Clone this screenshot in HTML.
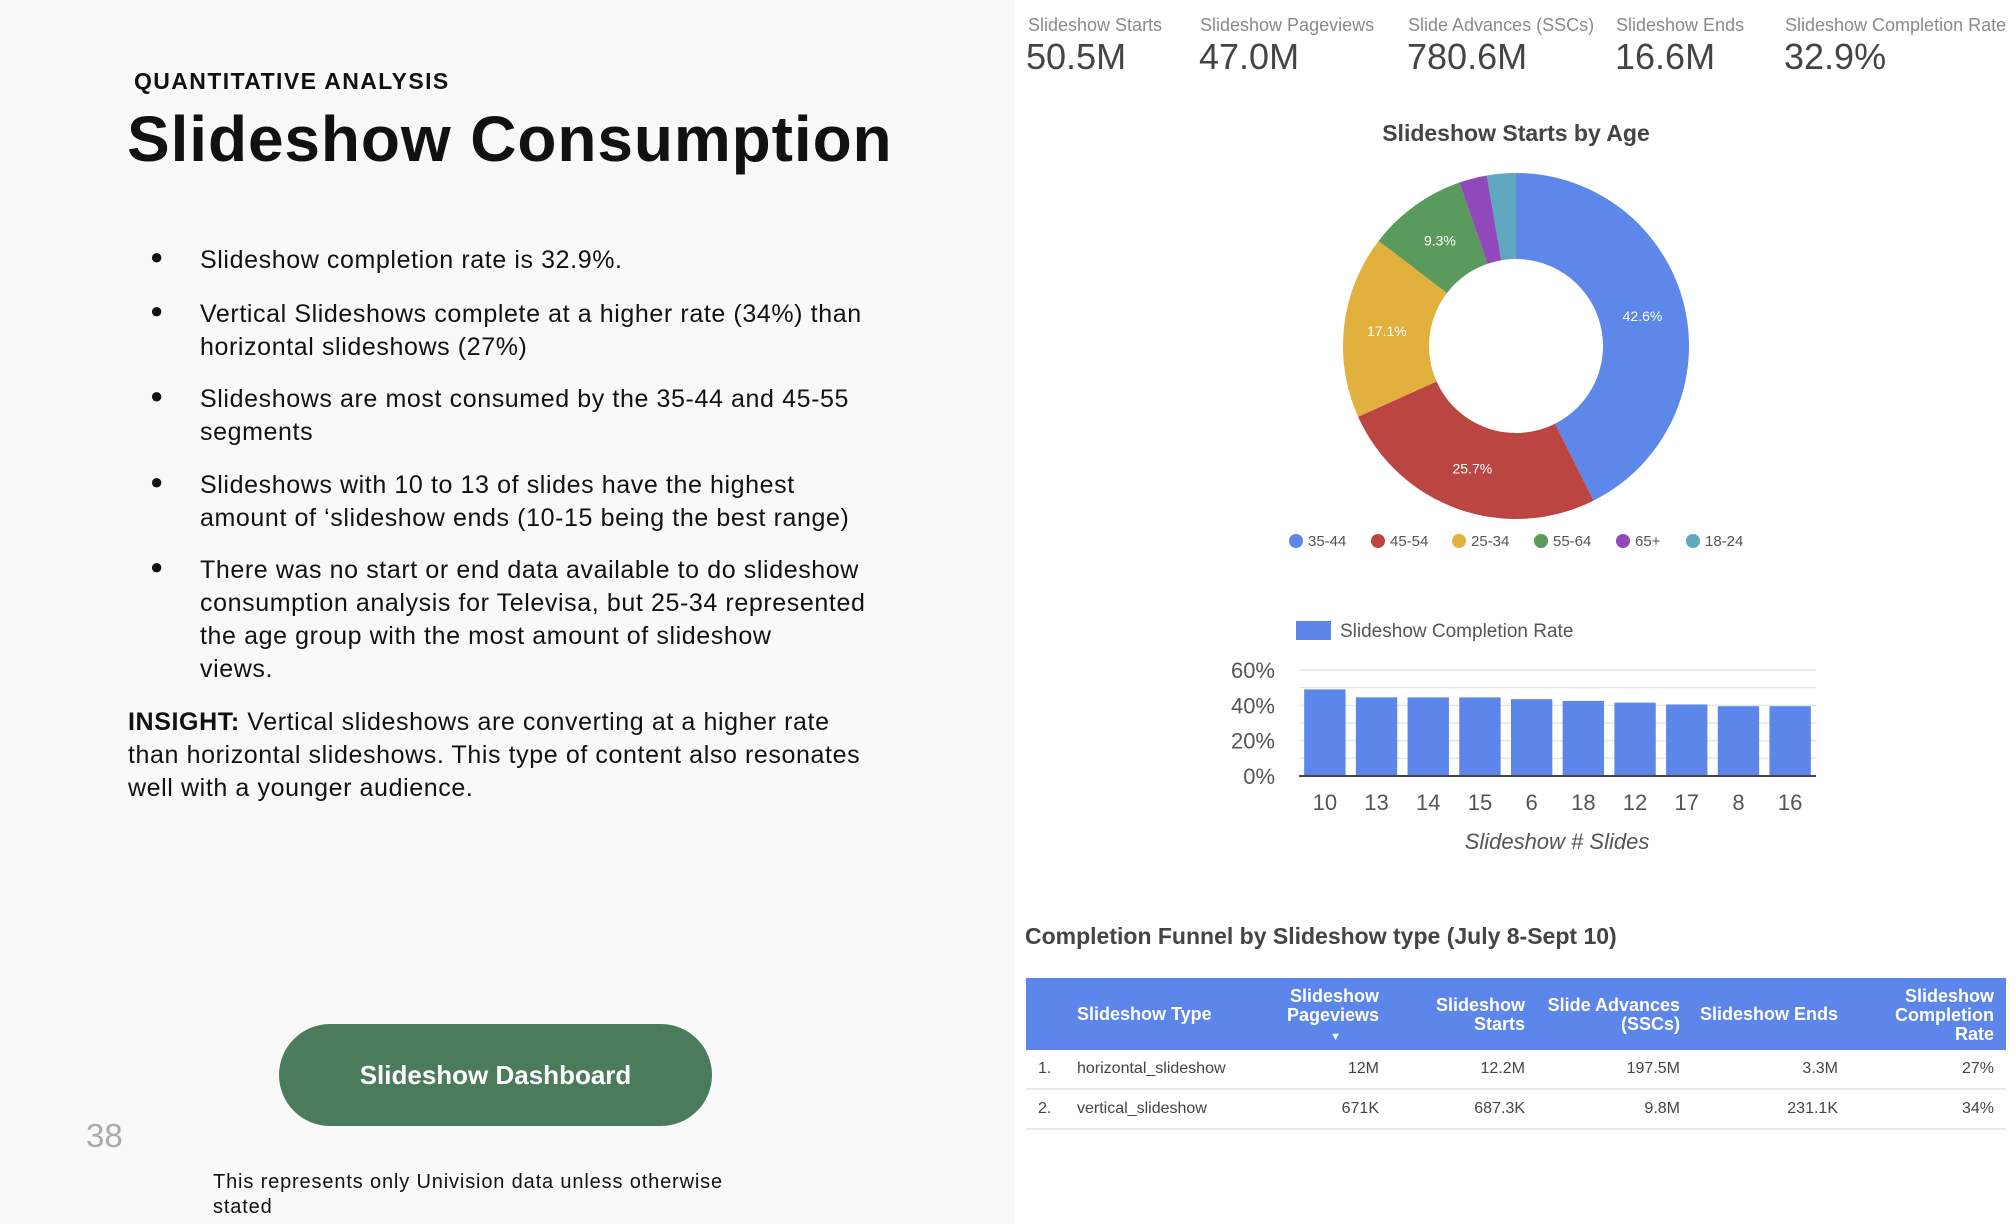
<!DOCTYPE html>
<html><head><meta charset="utf-8">
<style>
*{margin:0;padding:0;box-sizing:border-box}
body{width:2016px;height:1224px;position:relative;overflow:hidden;background:#fff;font-family:"Liberation Sans",sans-serif}
#left{position:absolute;left:0;top:0;width:1015px;height:1224px;background:#f9f9f9}
.abs{position:absolute;white-space:nowrap}
.bul{position:absolute;left:200px;font-size:25px;line-height:33px;color:#111;white-space:nowrap;letter-spacing:0.6px}
.dot{position:absolute;left:150px;font-size:22px;color:#111}
.kl{position:absolute;top:15px;font-size:18px;color:#8a8a8a}
.kv{position:absolute;top:36px;font-size:36px;color:#444}
.th{position:absolute;color:#fff;font-weight:bold;font-size:18px;line-height:19px;text-align:right}
.td{position:absolute;font-size:16px;color:#444}
#right{position:absolute;left:0;top:0;width:2016px;height:1224px;transform:translate(-6px,0px)}
</style></head><body>
<div id="left"></div>
<div class="abs" style="left:134px;top:68px;font-size:23px;font-weight:bold;color:#111;letter-spacing:1.4px">QUANTITATIVE ANALYSIS</div>
<div class="abs" style="left:127px;top:102px;font-size:64px;font-weight:bold;color:#111;letter-spacing:0.9px">Slideshow Consumption</div>

<div>
<div class="dot" style="top:244px">●</div><div class="bul" style="top:244px">Slideshow completion rate is 32.9%.</div>
<div class="dot" style="top:298px">●</div><div class="bul" style="top:298px">Vertical Slideshows complete at a higher rate (34%) than<br>horizontal slideshows (27%)</div>
<div class="dot" style="top:383px">●</div><div class="bul" style="top:383px">Slideshows are most consumed by the 35-44 and 45-55<br>segments</div>
<div class="dot" style="top:469px">●</div><div class="bul" style="top:469px">Slideshows with 10 to 13 of slides have the highest<br>amount of ‘slideshow ends (10-15 being the best range)</div>
<div class="dot" style="top:554px">●</div><div class="bul" style="top:554px">There was no start or end data available to do slideshow<br>consumption analysis for Televisa, but 25-34 represented<br>the age group with the most amount of slideshow<br>views.</div>
</div>
<div class="bul" style="left:128px;top:706px"><b>INSIGHT:</b> Vertical slideshows are converting at a higher rate<br>than horizontal slideshows. This type of content also resonates<br>well with a younger audience.</div>

<div style="position:absolute;left:279px;top:1024px;width:433px;height:102px;border-radius:51px;background:#4a7c5c;color:#fff;font-weight:bold;font-size:26px;text-align:center;line-height:102px">Slideshow Dashboard</div>
<div class="abs" style="left:86px;top:1117px;font-size:33px;color:#aaa">38</div>
<div class="abs" style="left:213px;top:1170px;font-size:20px;line-height:25px;color:#111;letter-spacing:0.85px">This represents only Univision data unless otherwise<br>stated</div>

<div id="right">
<div>
<div class="kl" style="left:1034px">Slideshow Starts</div><div class="kv" style="left:1032px">50.5M</div>
<div class="kl" style="left:1206px">Slideshow Pageviews</div><div class="kv" style="left:1205px">47.0M</div>
<div class="kl" style="left:1414px">Slide Advances (SSCs)</div><div class="kv" style="left:1413px">780.6M</div>
<div class="kl" style="left:1622px">Slideshow Ends</div><div class="kv" style="left:1621px">16.6M</div>
<div class="kl" style="left:1791px">Slideshow Completion Rate</div><div class="kv" style="left:1790px">32.9%</div>
</div>

<svg id="charts" width="2016" height="1224" style="position:absolute;left:0;top:0"
 font-family="Liberation Sans, sans-serif">
<text x="1522" y="141" text-anchor="middle" font-size="23" font-weight="bold" fill="#444">Slideshow Starts  by Age</text>
<g id="donut"></g><g id="donutLegend"></g>
<g id="bars"></g>
<text x="1031" y="944" font-size="23" font-weight="bold" fill="#444">Completion Funnel by Slideshow type (July 8-Sept 10)</text>
</svg>

<div>
<div style="position:absolute;left:1032px;top:978px;width:980px;height:72px;background:#5c86ea"></div>
<div class="th" style="left:1083px;top:1005px;text-align:left">Slideshow Type</div>
<div class="th" style="left:1250px;width:135px;top:987px">Slideshow<br>Pageviews<br><span style="font-size:11px;margin-right:38px">▼</span></div>
<div class="th" style="left:1400px;width:131px;top:996px">Slideshow<br>Starts</div>
<div class="th" style="left:1540px;width:146px;top:996px">Slide Advances<br>(SSCs)</div>
<div class="th" style="left:1690px;width:154px;top:1005px">Slideshow Ends</div>
<div class="th" style="left:1860px;width:140px;top:987px">Slideshow<br>Completion<br>Rate</div>
<div id="rows"></div>
</div>
</div>

<script>
// Donut data
const ageLabels=["35-44","45-54","25-34","55-64","65+","18-24"];
const ageShares=[42.6,25.7,17.1,9.3,2.6,2.7];
const ageColors=["#5d88ea","#bb4540","#e2b03d","#5a9a5c","#9048ba","#5fa8c0"];
// Bar data
const slideCats=["10","13","14","15","6","18","12","17","8","16"];
const completionRates=[49,44.5,44.5,44.5,43.5,42.5,41.5,40.5,39.5,39.5];
const yTicks=[0,20,40,60];
// Table data
const rowTypes=["horizontal_slideshow","vertical_slideshow"];
const rowPageviews=["12M","671K"];
const rowStarts=["12.2M","687.3K"];
const rowAdvances=["197.5M","9.8M"];
const rowEnds=["3.3M","231.1K"];
const rowRates=["27%","34%"];

const NS="http://www.w3.org/2000/svg";
function mk(tag,attrs,parent){const e=document.createElementNS(NS,tag);for(const k in attrs)e.setAttribute(k,attrs[k]);parent.appendChild(e);return e;}

// Donut
(function(){
 const g=document.getElementById('donut');const cx=1522,cy=346,R=173,r=87;
 const total=ageShares.reduce((a,b)=>a+b,0);let a0=0;
 ageShares.forEach((v,i)=>{
  const a1=a0+v/total*2*Math.PI;
  const p=(a,rr)=>[cx+rr*Math.sin(a),cy-rr*Math.cos(a)];
  const [x0,y0]=p(a0,R),[x1,y1]=p(a1,R),[x2,y2]=p(a1,r),[x3,y3]=p(a0,r);
  const lg=(a1-a0)>Math.PI?1:0;
  const path=mk('path',{d:`M${x0},${y0}A${R},${R} 0 ${lg} 1 ${x1},${y1}L${x2},${y2}A${r},${r} 0 ${lg} 0 ${x3},${y3}Z`,fill:ageColors[i]},g);
  
  
  if(v>5){const [tx,ty]=p((a0+a1)/2,(R+r)/2);
   const t=mk('text',{x:tx,y:ty+5,'text-anchor':'middle','font-size':14,fill:'#fff'},g);t.textContent=v.toFixed(1)+'%';
   
   }
  a0=a1;
 });
 const lg=document.getElementById('donutLegend');const lx=[1302,1384,1465,1547,1629,1699];
 ageLabels.forEach((l,i)=>{
  const c=mk('circle',{cx:lx[i],cy:541,r:7,fill:ageColors[i]},lg);
  
  
  const t=mk('text',{x:lx[i]+12,y:546,'font-size':15,fill:'#555'},lg);t.textContent=l;
  
  
 });
})();

// Bars
(function(){
 const g=document.getElementById('bars');const x0=1305,x1=1822,yb=776,yt=670,ymax=60;
 const Y=v=>yb-(v/ymax)*(yb-yt);const band=(x1-x0)/slideCats.length;
 const lr=mk('rect',{x:1302,y:621,width:35,height:19,fill:'#5c86ea'},g);
 
 
 const lt=mk('text',{x:1346,y:637,'font-size':19,fill:'#555'},g);lt.textContent='Slideshow Completion Rate';
 
 
 for(let v=10;v<=ymax;v+=10){const l=mk('line',{x1:x0,x2:x1,y1:Y(v),y2:Y(v),stroke:'#e6e6e6','stroke-width':1.5},g);
  
  }
 yTicks.forEach(v=>{const t=mk('text',{x:1281,y:Y(v)+8,'text-anchor':'end','font-size':22,fill:'#555'},g);t.textContent=v+'%';
  
  });
 completionRates.forEach((v,i)=>{
  const bw=band*0.8;const bx=x0+i*band+(band-bw)/2;
  const b=mk('rect',{x:bx,y:Y(v),width:bw,height:yb-Y(v),fill:'#5c86ea'},g);
  
  
  const t=mk('text',{x:bx+bw/2,y:810,'text-anchor':'middle','font-size':22,fill:'#555'},g);t.textContent=slideCats[i];
  
  
 });
 const ax=mk('line',{x1:x0,x2:x1,y1:yb,y2:yb,stroke:'#444','stroke-width':2},g);
 
 
 const at=mk('text',{x:1563,y:849,'text-anchor':'middle','font-size':22,'font-style':'italic',fill:'#555'},g);at.textContent='Slideshow # Slides';
 
 
})();

// Table rows
(function(){
 const c=document.getElementById('rows');
 function cell(txt,style){const d=document.createElement('div');d.className='td';d.style.cssText=style;d.textContent=txt;c.appendChild(d);return d;}
 rowTypes.forEach((t,i)=>{
  const top=1060+i*40;
  const row=document.createElement('div');row.style.cssText=`position:absolute;left:1032px;top:${top-10}px;width:980px;height:40px;border-bottom:2px solid #e8e8e8`;c.appendChild(row);
  
  
  cell((i+1)+'.',`left:1044px;top:${top}px`);
  cell(t,`left:1083px;top:${top}px`);
  cell(rowPageviews[i],`left:1285px;width:100px;text-align:right;top:${top}px`);
  cell(rowStarts[i],`left:1431px;width:100px;text-align:right;top:${top}px`);
  cell(rowAdvances[i],`left:1586px;width:100px;text-align:right;top:${top}px`);
  cell(rowEnds[i],`left:1744px;width:100px;text-align:right;top:${top}px`);
  cell(rowRates[i],`left:1900px;width:100px;text-align:right;top:${top}px`);
 });
})();
</script>
</body></html>
